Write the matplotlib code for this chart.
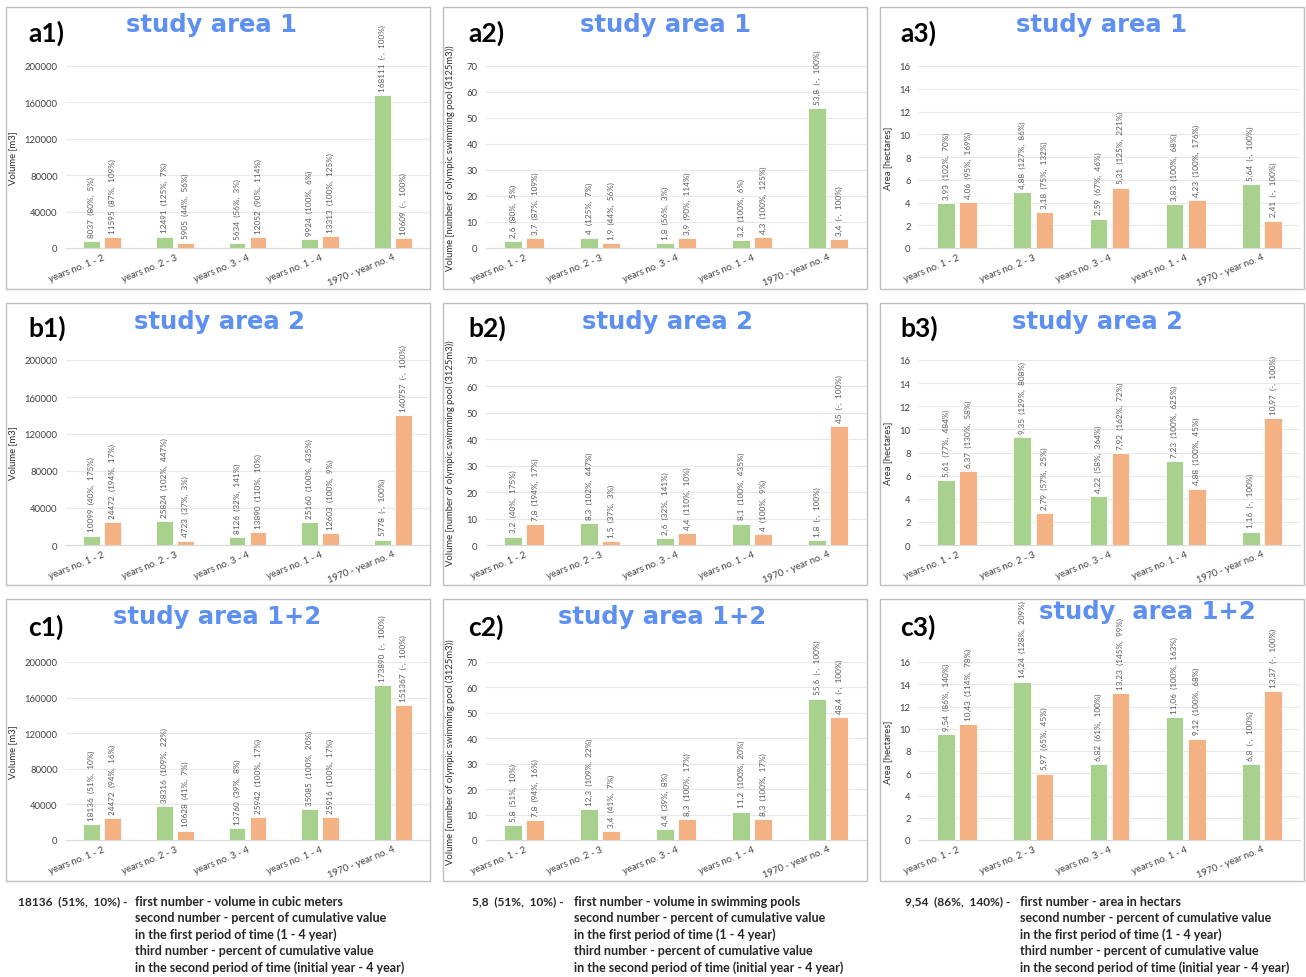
import matplotlib
matplotlib.use("Agg")
import matplotlib.pyplot as plt
import numpy as np
from matplotlib.patches import Rectangle

CATEGORIES = ["years no. 1 - 2", "years no. 2 - 3", "years no. 3 - 4", "years no. 1 - 4", "1970 - year no. 4"]

# study area 1
A1_VOL_GREEN = [8037, 12491, 5634, 9924, 168111]
A1_VOL_ORANGE = [11595, 5905, 12052, 13313, 10609]
A1_POOL_GREEN = [2.6, 4, 1.8, 3.2, 53.8]
A1_POOL_ORANGE = [3.7, 1.9, 3.9, 4.3, 3.4]
A1_AREA_GREEN = [3.93, 4.88, 2.59, 3.83, 5.64]
A1_AREA_ORANGE = [4.06, 3.18, 5.31, 4.23, 2.41]
A1_VOL_PCT_GREEN = [("80%", "5%"), ("125%", "7%"), ("56%", "3%"), ("100%", "6%"), ("-", "100%")]
A1_VOL_PCT_ORANGE = [("87%", "109%"), ("44%", "56%"), ("90%", "114%"), ("100%", "125%"), ("-", "100%")]
A1_AREA_PCT_GREEN = [("102%", "70%"), ("127%", "86%"), ("67%", "46%"), ("100%", "68%"), ("-", "100%")]
A1_AREA_PCT_ORANGE = [("95%", "169%"), ("75%", "132%"), ("125%", "221%"), ("100%", "176%"), ("-", "100%")]

# study area 2
A2_VOL_GREEN = [10099, 25824, 8126, 25160, 5778]
A2_VOL_ORANGE = [24472, 4723, 13890, 12603, 140757]
A2_POOL_GREEN = [3.2, 8.3, 2.6, 8.1, 1.8]
A2_POOL_ORANGE = [7.8, 1.5, 4.4, 4, 45]
A2_AREA_GREEN = [5.61, 9.35, 4.22, 7.23, 1.16]
A2_AREA_ORANGE = [6.37, 2.79, 7.92, 4.88, 10.97]
A2_VOL_PCT_GREEN = [("40%", "175%"), ("102%", "447%"), ("32%", "141%"), ("100%", "435%"), ("-", "100%")]
A2_VOL_PCT_ORANGE = [("194%", "17%"), ("37%", "3%"), ("110%", "10%"), ("100%", "9%"), ("-", "100%")]
A2_AREA_PCT_GREEN = [("77%", "484%"), ("129%", "808%"), ("58%", "364%"), ("100%", "625%"), ("-", "100%")]
A2_AREA_PCT_ORANGE = [("130%", "58%"), ("57%", "25%"), ("162%", "72%"), ("100%", "45%"), ("-", "100%")]

# study area 1+2
A12_VOL_GREEN = [18136, 38316, 13760, 35085, 173890]
A12_VOL_ORANGE = [24472, 10628, 25942, 25916, 151367]
A12_POOL_GREEN = [5.8, 12.3, 4.4, 11.2, 55.6]
A12_POOL_ORANGE = [7.8, 3.4, 8.3, 8.3, 48.4]
A12_AREA_GREEN = [9.54, 14.24, 6.82, 11.06, 6.8]
A12_AREA_ORANGE = [10.43, 5.97, 13.23, 9.12, 13.37]
A12_VOL_PCT_GREEN = [("51%", "10%"), ("109%", "22%"), ("39%", "8%"), ("100%", "20%"), ("-", "100%")]
A12_VOL_PCT_ORANGE = [("94%", "16%"), ("41%", "7%"), ("100%", "17%"), ("100%", "17%"), ("-", "100%")]
A12_AREA_PCT_GREEN = [("86%", "140%"), ("128%", "209%"), ("61%", "100%"), ("100%", "163%"), ("-", "100%")]
A12_AREA_PCT_ORANGE = [("114%", "78%"), ("65%", "45%"), ("145%", "99%"), ("100%", "68%"), ("-", "100%")]

FOOTER_HEADS = [
    ("18136  (51%,  10%) -", "first number - volume in cubic meters"),
    ("5,8  (51%,  10%) -", "first number - volume in swimming pools"),
    ("9,54  (86%,  140%) -", "first number - area in hectars"),
]
FOOTER_LINES = [
    "second number - percent of cumulative value",
    "in the first period of time (1 - 4 year)",
    "third number - percent of cumulative value",
    "in the second period of time (initial year - 4 year)",
]

W, H = 1306, 978
GREEN = "#A9D18E"
ORANGE = "#F4B183"
BLUE = "#5E90F2"
TEXT = "#595959"

COL_BOX = [(6, 430), (443, 867), (880, 1304)]
ROW_BOX = [(8, 290), (304, 586), (600, 882)]
COL_PLOT = [(66, 429), (486, 866), (919, 1300)]
ROW_PLOT = [(67, 249), (361, 546), (663, 841)]
YLABEL_X = [13, 450, 888]
TAG_X = [28, 468, 900]
TAG_Y = [33, 328, 627]
FOOT_X = [(18, 135), (472, 574), (905, 1020)]

plt.rcParams["font.family"] = ["Lato", "DejaVu Sans"]


def fx(px):
    return px / W


def fy(py):
    return 1 - py / H


def fmt(v):
    if float(v).is_integer():
        return str(int(v))
    return f"{v:g}".replace(".", ",")


def draw_panel(fig, col, row, tag, title, title_xy, green, orange, pct_green, pct_orange, ylabel, ymax, ystep):
    x0, x1 = COL_BOX[col]
    y0, y1 = ROW_BOX[row]
    fig.patches.append(Rectangle((fx(x0), fy(y1)), fx(x1 - x0), (y1 - y0) / H, transform=fig.transFigure,
                                 fill=False, edgecolor="#BFBFBF", linewidth=1.0))

    px0, px1 = COL_PLOT[col]
    pt, pb = ROW_PLOT[row]
    ax = fig.add_axes([fx(px0), fy(pb), fx(px1 - px0), (pb - pt) / H])

    x = np.arange(len(CATEGORIES))
    width, off = 0.23, 0.145
    ax.bar(x - off, green, width, color=GREEN, edgecolor="white", linewidth=0.6, zorder=2)
    ax.bar(x + off, orange, width, color=ORANGE, edgecolor="white", linewidth=0.6, zorder=2)

    for xs, vals, pcts in ((x - off, green, pct_green), (x + off, orange, pct_orange)):
        for xi, v, (p1, p2) in zip(xs, vals, pcts):
            ax.annotate(f"{fmt(v)}  ({p1},  {p2})", (xi, v), xytext=(0, 3), textcoords="offset points",
                        rotation=90, ha="center", va="bottom", fontsize=5.9, color=TEXT,
                        annotation_clip=False)

    ax.set_xlim(-0.5, len(CATEGORIES) - 0.5)
    ax.set_ylim(0, ymax)
    ax.set_yticks(np.arange(0, ymax + ystep / 2, ystep))
    ax.set_xticks(x)
    ax.set_xticklabels(CATEGORIES, rotation=22, ha="right", va="top", rotation_mode="anchor",
                       fontsize=6.8, color="#404040")
    ax.tick_params(axis="y", length=0, labelsize=6.8, labelcolor="#404040", pad=6)
    ax.tick_params(axis="x", length=0, pad=3)
    for s in ("top", "right", "left"):
        ax.spines[s].set_visible(False)
    ax.spines["bottom"].set_color("#D9D9D9")
    ax.spines["bottom"].set_linewidth(0.8)
    ax.grid(axis="y", color="#E8E8E8", linewidth=0.8, zorder=0)
    ax.set_axisbelow(True)

    fig.text(fx(YLABEL_X[col]), fy((pt + pb) / 2), ylabel, rotation=90, ha="center", va="center",
             fontsize=6.8, color="#303030")
    fig.text(fx(TAG_X[col]), fy(TAG_Y[row]), tag, ha="left", va="center", fontsize=19,
             fontweight="bold", color="black")
    fig.text(fx(title_xy[0]), fy(title_xy[1]), title, ha="center", va="center", fontsize=17.5,
             fontweight="bold", color=BLUE, family="DejaVu Sans")
    return ax


fig = plt.figure(figsize=(W / 100, H / 100), dpi=100)

VOL_LABEL = "Volume [m3]"
POOL_LABEL = "Volume [number of olympic swimming pool (3125m3))"
AREA_LABEL = "Area [hectares]"

draw_panel(fig, 0, 0, "a1)", "study area 1", (212, 25), A1_VOL_GREEN, A1_VOL_ORANGE,
           A1_VOL_PCT_GREEN, A1_VOL_PCT_ORANGE, VOL_LABEL, 200000, 40000)
draw_panel(fig, 1, 0, "a2)", "study area 1", (666, 25), A1_POOL_GREEN, A1_POOL_ORANGE,
           A1_VOL_PCT_GREEN, A1_VOL_PCT_ORANGE, POOL_LABEL, 70, 10)
draw_panel(fig, 2, 0, "a3)", "study area 1", (1102, 25), A1_AREA_GREEN, A1_AREA_ORANGE,
           A1_AREA_PCT_GREEN, A1_AREA_PCT_ORANGE, AREA_LABEL, 16, 2)

draw_panel(fig, 0, 1, "b1)", "study area 2", (220, 322), A2_VOL_GREEN, A2_VOL_ORANGE,
           A2_VOL_PCT_GREEN, A2_VOL_PCT_ORANGE, VOL_LABEL, 200000, 40000)
draw_panel(fig, 1, 1, "b2)", "study area 2", (668, 322), A2_POOL_GREEN, A2_POOL_ORANGE,
           A2_VOL_PCT_GREEN, A2_VOL_PCT_ORANGE, POOL_LABEL, 70, 10)
draw_panel(fig, 2, 1, "b3)", "study area 2", (1097, 322), A2_AREA_GREEN, A2_AREA_ORANGE,
           A2_AREA_PCT_GREEN, A2_AREA_PCT_ORANGE, AREA_LABEL, 16, 2)

draw_panel(fig, 0, 2, "c1)", "study area 1+2", (217, 617), A12_VOL_GREEN, A12_VOL_ORANGE,
           A12_VOL_PCT_GREEN, A12_VOL_PCT_ORANGE, VOL_LABEL, 200000, 40000)
draw_panel(fig, 1, 2, "c2)", "study area 1+2", (662, 617), A12_POOL_GREEN, A12_POOL_ORANGE,
           A12_VOL_PCT_GREEN, A12_VOL_PCT_ORANGE, POOL_LABEL, 70, 10)
draw_panel(fig, 2, 2, "c3)", "study  area 1+2", (1147, 612), A12_AREA_GREEN, A12_AREA_ORANGE,
           A12_AREA_PCT_GREEN, A12_AREA_PCT_ORANGE, AREA_LABEL, 16, 2)

# footnotes under each column
line_y = [902, 918.5, 935, 951.5, 968]
for (head_x, body_x), (head, first) in zip(FOOT_X, FOOTER_HEADS):
    fig.text(fx(head_x), fy(line_y[0]), head, ha="left", va="center", fontsize=8.6,
             fontweight="bold", color="#262626")
    fig.text(fx(body_x), fy(line_y[0]), first, ha="left", va="center", fontsize=9,
             fontweight="bold", color="#262626")
    for ly, line in zip(line_y[1:], FOOTER_LINES):
        fig.text(fx(body_x), fy(ly), line, ha="left", va="center", fontsize=9,
                 fontweight="bold", color="#262626")

fig.savefig("out.png", dpi=100, facecolor="white")
